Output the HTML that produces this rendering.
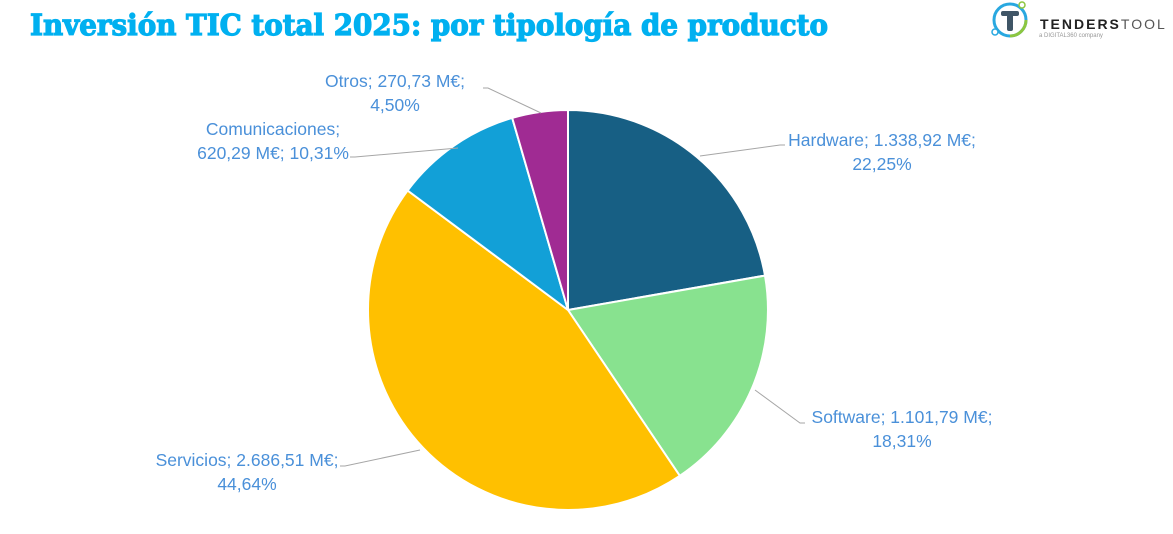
<!DOCTYPE html>
<html><head><meta charset="utf-8"><style>
body{margin:0;background:#fff;width:1173px;height:529px;overflow:hidden;}
</style></head><body>
<svg width="1173" height="529" xmlns="http://www.w3.org/2000/svg">
<text x="30" y="35" font-family="DejaVu Serif, serif" font-weight="bold" font-size="29" fill="#00B0F0" stroke="#00B0F0" stroke-width="1.2" textLength="798" lengthAdjust="spacingAndGlyphs">Inversión TIC total 2025: por tipología de producto</text>
<g>
<circle cx="1010" cy="20" r="16" fill="none" stroke="#29A8E0" stroke-width="3"/>
<path d="M1010 36 A16 16 0 0 0 1026 20" fill="none" stroke="#8DC63F" stroke-width="3"/>
<circle cx="1022" cy="5" r="3" fill="#fff" stroke="#8DC63F" stroke-width="1.5"/>
<circle cx="995" cy="32" r="3" fill="#fff" stroke="#29A8E0" stroke-width="1.5"/>
<rect x="1001" y="11" width="18" height="5" rx="2" fill="#3F5566"/>
<rect x="1007" y="11" width="6" height="20" rx="2" fill="#3F5566"/>
<text x="1040" y="29" font-family="Liberation Sans, sans-serif" font-weight="bold" font-size="14" fill="#222" letter-spacing="2">TENDERS<tspan font-weight="normal" fill="#555">TOOL</tspan></text>
<text x="1039" y="37" font-family="Liberation Sans, sans-serif" font-size="6" fill="#999">a DIGITAL360 company</text>
</g>
<g stroke="#fff" stroke-width="2">
<path d="M568 310 L568 110 A200 200 0 0 1 765 275.6 Z" fill="#175F84"/>
<path d="M568 310 L765 275.6 A200 200 0 0 1 679.8 475.8 Z" fill="#88E28F"/>
<path d="M568 310 L679.8 475.8 A200 200 0 0 1 407.6 190.5 Z" fill="#FFC000"/>
<path d="M568 310 L407.6 190.5 A200 200 0 0 1 512.2 117.9 Z" fill="#12A0D7"/>
<path d="M568 310 L512.2 117.9 A200 200 0 0 1 568 110 Z" fill="#A02B93"/>
</g>
<g stroke="#A6A6A6" stroke-width="1" fill="none">
<polyline points="700,156 780,145 785,145"/>
<polyline points="755,390 800,423 805,423"/>
<polyline points="420,450 345,466 340,466"/>
<polyline points="458,148 355,157 350,157"/>
<polyline points="541,113 488,88 483,88"/>
</g>
<g font-family="Liberation Sans, sans-serif" font-size="17.5" fill="#4A90D9" text-anchor="middle">
<text x="882" y="146">Hardware; 1.338,92 M€;</text>
<text x="882" y="170">22,25%</text>
<text x="902" y="423">Software; 1.101,79 M€;</text>
<text x="902" y="447">18,31%</text>
<text x="247" y="466">Servicios; 2.686,51 M€;</text>
<text x="247" y="490">44,64%</text>
<text x="273" y="135">Comunicaciones;</text>
<text x="273" y="159">620,29 M€; 10,31%</text>
<text x="395" y="87">Otros; 270,73 M€;</text>
<text x="395" y="111">4,50%</text>
</g>
</svg>
</body></html>
